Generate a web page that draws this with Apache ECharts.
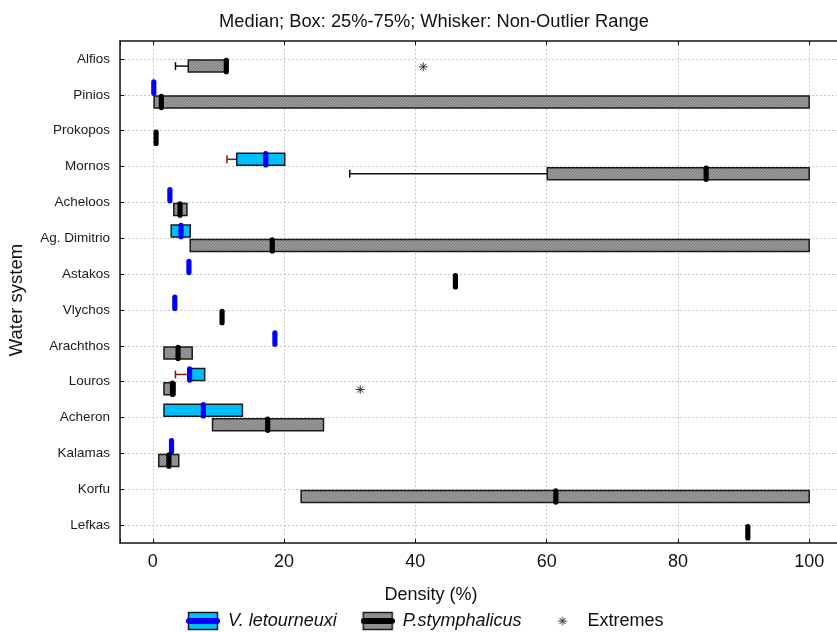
<!DOCTYPE html>
<html>
<head>
<meta charset="utf-8">
<script src="https://cdn.jsdelivr.net/npm/echarts@6/dist/echarts.min.js"></script>
<style>
  html, body { margin: 0; padding: 0; background: #fff; }
  #chart { width: 837px; height: 632px; }
</style>
</head>
<body>
<div id="chart"></div>
<script>
const categories = ['Alfios', 'Pinios', 'Prokopos', 'Mornos', 'Acheloos', 'Ag. Dimitrio', 'Astakos',
  'Vlychos', 'Arachthos', 'Louros', 'Acheron', 'Kalamas', 'Korfu', 'Lefkas'];

// V. letourneuxi (null = nothing drawn)
const vMin = [null, null, null, 11.3, null, null, null, null, null, 3.45, null, null, null, null];
const vQ1 = [null, null, null, 12.8, null, 2.8, null, null, null, 5.5, 1.7, null, null, null];
const vMedian = [null, 0.15, null, 17.2, 2.6, 4.3, 5.5, 3.35, 18.6, 5.6, 7.7, 2.85, null, null];
const vQ3 = [null, null, null, 20.1, null, 5.7, null, null, null, 7.9, 13.65, null, null, null];
const vMax = [null, null, null, null, null, null, null, null, null, null, null, null, null, null];

// P. stymphalicus
const pMin = [3.45, null, null, 30, null, null, null, null, null, null, null, null, null, null];
const pQ1 = [5.4, 0.2, null, 60.1, 3.2, 5.7, null, null, 1.7, 1.7, 9.1, 0.9, 22.6, null];
const pMedian = [11.2, 1.3, 0.5, 84.3, 4.15, 18.2, 46.1, 10.55, 3.85, 3.0, 17.5, 2.45, 61.4, 90.65];
const pQ3 = [11.2, 100, null, 100, 5.2, 100, null, null, 6.0, 3.4, 26.0, 3.95, 100, null];
const pMax = [null, null, null, null, null, null, null, null, null, null, null, null, null, null];

// extremes (P. stymphalicus)
const extremeCategories = ['Alfios', 'Louros'];
const extremeValues = [41.2, 31.6];

const FONT = '"Liberation Sans", Arial, sans-serif';
const CYAN = '#00bfff';
const STAR_R = 4.3;

// fine hatch fill for the grey boxes
function makeHatch() {
  const c = document.createElement('canvas');
  c.width = 3; c.height = 3;
  const ctx = c.getContext('2d');
  ctx.fillStyle = '#9a9a9a';
  ctx.fillRect(0, 0, 3, 3);
  ctx.fillStyle = '#7c7c7c';
  ctx.fillRect(2, 0, 1, 1);
  ctx.fillRect(1, 1, 1, 1);
  ctx.fillRect(0, 2, 1, 1);
  return c;
}
const hatch = makeHatch();
const hatchFill = { type: 'pattern', image: hatch, repeat: 'repeat' };

function legendBox(fill, lineColor) {
  const c = document.createElement('canvas');
  c.width = 34; c.height = 20;
  const ctx = c.getContext('2d');
  ctx.fillStyle = fill === 'hatch' ? ctx.createPattern(hatch, 'repeat') : fill;
  ctx.fillRect(2.5, 1.5, 29, 17);
  ctx.strokeStyle = '#1a1a1a';
  ctx.lineWidth = 1.5;
  ctx.strokeRect(2.5, 1.5, 29, 17);
  ctx.strokeStyle = lineColor;
  ctx.lineWidth = 6;
  ctx.lineCap = 'round';
  ctx.beginPath();
  ctx.moveTo(3, 10); ctx.lineTo(31, 10);
  ctx.stroke();
  return 'image://' + c.toDataURL();
}
function legendStar() {
  const c = document.createElement('canvas');
  c.width = 34; c.height = 20;
  const ctx = c.getContext('2d');
  ctx.strokeStyle = '#333';
  ctx.lineWidth = 1;
  const cx = 17, cy = 10, r = STAR_R, d = r * 0.72;
  ctx.beginPath();
  ctx.moveTo(cx, cy - r); ctx.lineTo(cx, cy + r);
  ctx.moveTo(cx - r, cy); ctx.lineTo(cx + r, cy);
  ctx.moveTo(cx - d, cy - d); ctx.lineTo(cx + d, cy + d);
  ctx.moveTo(cx - d, cy + d); ctx.lineTo(cx + d, cy - d);
  ctx.stroke();
  return 'image://' + c.toDataURL();
}

function val(v) { return v == null ? '-' : v; }
function boxData(mins, q1s, meds, q3s, maxs) {
  return categories.map((c, i) => [i, val(mins[i]), val(q1s[i]), val(meds[i]), val(q3s[i]), val(maxs[i])]);
}

function boxRenderer(fill, medColor, whiskerColor, side) {
  return function (params, api) {
    const cat = api.value(0);
    const band = api.size([0, 1])[1];
    const y = api.coord([0, cat])[1] + side * band * 0.2;
    const h = band * 0.335;
    const X = v => api.coord([v, cat])[0];
    const lo = api.value(1), q1 = api.value(2), med = api.value(3), q3 = api.value(4), hi = api.value(5);
    const children = [];
    const wStyle = { stroke: whiskerColor, lineWidth: 1.5 };
    if (!isNaN(lo) && !isNaN(q1)) {
      children.push({ type: 'line', shape: { x1: X(lo), y1: y, x2: X(q1), y2: y }, style: wStyle });
      children.push({ type: 'line', shape: { x1: X(lo), y1: y - 4, x2: X(lo), y2: y + 4 }, style: wStyle });
    }
    if (!isNaN(hi) && !isNaN(q3)) {
      children.push({ type: 'line', shape: { x1: X(q3), y1: y, x2: X(hi), y2: y }, style: wStyle });
      children.push({ type: 'line', shape: { x1: X(hi), y1: y - 4, x2: X(hi), y2: y + 4 }, style: wStyle });
    }
    if (!isNaN(q1) && !isNaN(q3)) {
      children.push({
        type: 'rect',
        shape: { x: X(q1), y: y - h / 2, width: X(q3) - X(q1), height: h },
        style: { fill: fill, stroke: '#1a1a1a', lineWidth: 1.5 }
      });
    }
    if (!isNaN(med)) {
      const mh = band * 0.46;
      children.push({
        type: 'rect',
        shape: { x: X(med) - 2.6, y: y - mh / 2, width: 5.2, height: mh, r: 2.6 },
        style: { fill: medColor }
      });
    }
    return { type: 'group', children: children };
  };
}

function starRenderer(params, api) {
  const cat = api.value(0);
  const band = api.size([0, 1])[1];
  const p = api.coord([api.value(1), cat]);
  const cx = p[0], cy = p[1] + band * 0.22, r = STAR_R, d = r * 0.72;
  const s = { stroke: '#333', lineWidth: 1 };
  return {
    type: 'group',
    children: [
      { type: 'line', shape: { x1: cx, y1: cy - r, x2: cx, y2: cy + r }, style: s },
      { type: 'line', shape: { x1: cx - r, y1: cy, x2: cx + r, y2: cy }, style: s },
      { type: 'line', shape: { x1: cx - d, y1: cy - d, x2: cx + d, y2: cy + d }, style: s },
      { type: 'line', shape: { x1: cx - d, y1: cy + d, x2: cx + d, y2: cy - d }, style: s }
    ]
  };
}

const chart = echarts.init(document.getElementById('chart'));
const option = {
  animation: false,
  textStyle: { fontFamily: FONT },
  title: [
    {
      text: 'Median; Box: 25%-75%; Whisker: Non-Outlier Range',
      left: 429, top: 8, textAlign: 'center',
      textStyle: { fontFamily: FONT, fontSize: 18.3, fontWeight: 'normal', color: '#111' }
    },
    {
      text: 'Density (%)',
      left: 426, top: 581, textAlign: 'center',
      textStyle: { fontFamily: FONT, fontSize: 18, fontWeight: 'normal', color: '#111' }
    }
  ],
  legend: {
    left: 181, top: 606,
    itemWidth: 34, itemHeight: 20, itemGap: 24,
    textStyle: { fontFamily: FONT, fontSize: 18, color: '#111', padding: [0, 0, 0, 3] },
    data: [
      { name: 'V. letourneuxi', icon: legendBox(CYAN, '#0000ff'), textStyle: { fontStyle: 'italic' } },
      { name: 'P.stymphalicus', icon: legendBox('hatch', '#000'), textStyle: { fontStyle: 'italic' } },
      { name: 'Extremes', icon: legendStar() }
    ]
  },
  grid: { left: 120, right: -5, top: 41, bottom: 89, outerBoundsMode: 'none', containLabel: false },
  xAxis: [
    {
      type: 'value', min: -5, max: 105,
      axisLine: { show: true, onZero: false, lineStyle: { color: '#111', width: 1.5 } },
      axisTick: { show: true, inside: true, length: 4, lineStyle: { color: '#111' } },
      axisLabel: {
        fontFamily: FONT, fontSize: 18, color: '#111', margin: 10,
        formatter: v => (v % 20 === 0 ? String(v) : '')
      },
      splitLine: { show: true, lineStyle: { color: '#c8c8c8', type: [2, 2] } }
    },
    {
      type: 'value', min: -5, max: 105, position: 'top',
      axisLine: { show: true, onZero: false, lineStyle: { color: '#111', width: 1.5 } },
      axisTick: { show: true, inside: true, length: 4, lineStyle: { color: '#111' } },
      axisLabel: { show: false },
      splitLine: { show: false }
    }
  ],
  yAxis: {
    type: 'category', data: categories, inverse: true,
    name: 'Water system', nameLocation: 'middle', nameGap: 94,
    nameTextStyle: { fontFamily: FONT, fontSize: 18.5, color: '#111', padding: [0, 16, 0, 0] },
    axisLine: { show: true, onZero: false, lineStyle: { color: '#111', width: 1.5 } },
    axisTick: { show: true, inside: true, length: 4, alignWithLabel: true, lineStyle: { color: '#111' } },
    axisLabel: { fontFamily: FONT, fontSize: 13.5, color: '#1a1a1a', margin: 10 },
    splitLine: { show: true, alignWithLabel: true, lineStyle: { color: '#c8c8c8', type: [2, 2] } }
  },
  series: [
    {
      name: 'V. letourneuxi', type: 'custom',
      renderItem: boxRenderer(CYAN, '#0000ff', '#8b1414', -1),
      encode: { x: [1, 2, 3, 4, 5], y: 0 },
      itemStyle: { color: CYAN },
      data: boxData(vMin, vQ1, vMedian, vQ3, vMax)
    },
    {
      name: 'P.stymphalicus', type: 'custom',
      renderItem: boxRenderer(hatchFill, '#000', '#111', 1),
      encode: { x: [1, 2, 3, 4, 5], y: 0 },
      itemStyle: { color: '#999' },
      data: boxData(pMin, pQ1, pMedian, pQ3, pMax)
    },
    {
      name: 'Extremes', type: 'custom',
      renderItem: starRenderer,
      encode: { x: 1, y: 0 },
      itemStyle: { color: '#333' },
      data: extremeCategories.map((c, i) => [categories.indexOf(c), extremeValues[i]])
    }
  ]
};
chart.setOption(option);
</script>
</body>
</html>
